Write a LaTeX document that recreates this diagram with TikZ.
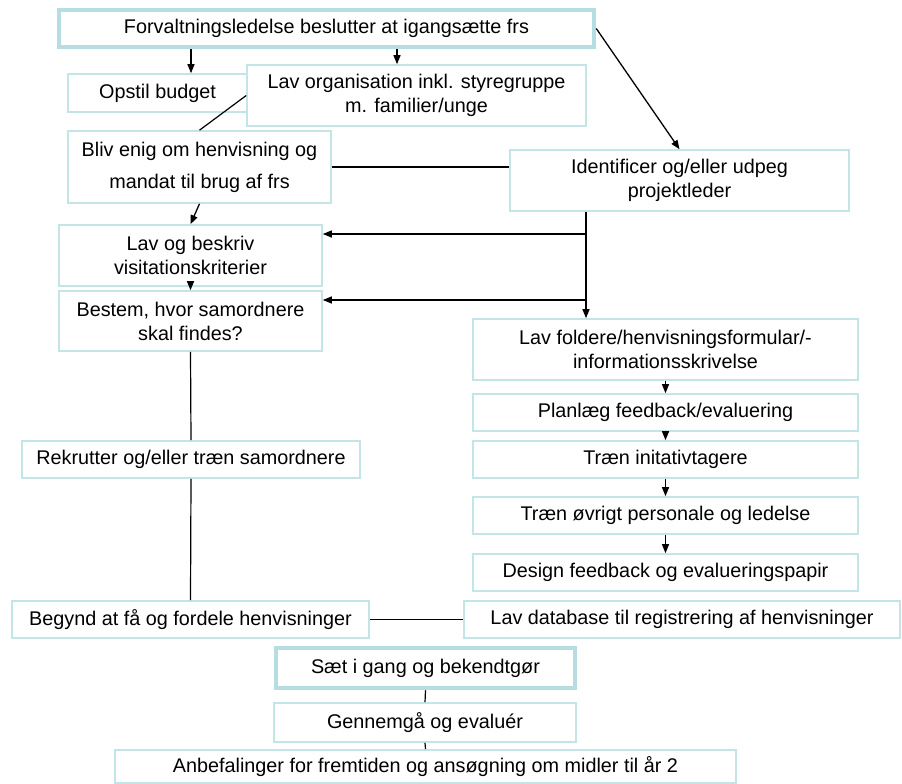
\documentclass[tikz,border=0pt]{standalone}
\usepackage{fontspec}
\setmainfont{Liberation Sans}
\usetikzlibrary{arrows.meta}
\definecolor{kant}{RGB}{196,229,232}
\definecolor{tykkant}{RGB}{182,221,225}
\tikzset{
  boks/.style={draw=kant, line width=1.6pt, fill=white, align=center, inner sep=0pt, font=\fontsize{19.8}{24}\selectfont},
  tykboks/.style={boks, draw=tykkant, line width=4.5pt},
  pil/.style={-{Triangle[length=9pt,width=7pt]}, line width=1.3pt},
  streg/.style={line width=1.2pt}
}
\begin{document}
\begin{tikzpicture}[x=1pt,y=-1pt]
\useasboundingbox (0,0) rectangle (902,784);
\node[tykboks, minimum width=535, minimum height=37] (start) at (326.5,28.5) {Forvaltningsledelse beslutter at igangsætte frs};
\node[boks, minimum width=179, minimum height=38] (opstil) at (157.5,93) {Opstil budget};
\node[boks, minimum width=339, minimum height=61] (lavorg) at (416.5,95.5) {Lav organisation inkl. styregruppe\\m. familier/unge};
\node[boks, minimum width=263, minimum height=72] (bliv) at (199.5,167) {Bliv enig om henvisning og\\[8pt]mandat til brug af frs};
\node[boks, minimum width=339, minimum height=61] (ident) at (679.5,180.5) {Identificer og/eller udpeg\\projektleder};
\node[boks, minimum width=263, minimum height=61] (lavbeskriv) at (190.5,255.5) {Lav og beskriv\\visitationskriterier};
\node[boks, minimum width=263, minimum height=60] (bestem) at (190.5,321) {Bestem, hvor samordnere\\skal findes?};
\node[boks, minimum width=385, minimum height=61] (folder) at (665.5,349.5) {Lav foldere/henvisningsformular/-\\informationsskrivelse};
\node[boks, minimum width=385, minimum height=37] (planlaeg) at (665.5,412.5) {Planlæg feedback/evaluering};
\node[boks, minimum width=385, minimum height=37] (traenini) at (665.5,459.5) {Træn initativtagere};
\node[boks, minimum width=385, minimum height=37] (traenovr) at (665.5,515.5) {Træn øvrigt personale og ledelse};
\node[boks, minimum width=385, minimum height=37] (design) at (665.5,572.5) {Design feedback og evalueringspapir};
\node[boks, minimum width=338, minimum height=37] (rekrut) at (191,459.5) {Rekrutter og/eller træn samordnere};
\node[boks, minimum width=357, minimum height=37] (begynd) at (190.5,619.5) {Begynd at få og fordele henvisninger};
\node[boks, minimum width=436, minimum height=37] (database) at (682,619.5) {Lav database til registrering af henvisninger};
\node[tykboks, minimum width=299, minimum height=40] (saet) at (425.5,668) {Sæt i gang og bekendtgør};
\node[boks, minimum width=302, minimum height=39] (gennem) at (425,722.5) {Gennemgå og evaluér};
\node[boks, minimum width=621, minimum height=33] (anbef) at (425.5,766.5) {Anbefalinger for fremtiden og ansøgning om midler til år 2};
% pile fra toppen
\draw[pil] (start.south -| 191,0) -- (opstil.north -| 191,0);
\draw[pil] (start.south -| 397,0) -- (lavorg.north -| 397,0);
\draw[pil] (start.east) -- (ident.north);
\draw[streg] (lavorg.west) -- (bliv.north);
\draw[streg] (bliv.east) -- (bliv.east -| ident.west);
\draw[pil] (bliv.south) -- (lavbeskriv.north);
\draw[pil] (lavbeskriv.south) -- (bestem.north);
% projektleder-grenen
\coordinate (g1) at (586,234); \coordinate (g2) at (586,300);
\draw[pil] (ident.south -| g1) -- (folder.north -| g1);
\draw[pil] (g1) -- (g1 -| lavbeskriv.east);
\draw[pil] (g2) -- (g2 -| bestem.east);
\foreach \a/\b in {folder/planlaeg,planlaeg/traenini,traenini/traenovr,traenovr/design}{\draw[pil] (\a.south) -- (\b.north);}
\foreach \a/\b in {bestem/rekrut,rekrut/begynd,saet/gennem,gennem/anbef}{\draw[streg] (\a.south) -- (\b.north);}
\draw[streg] (begynd.east) -- (database.west);
\end{tikzpicture}
\end{document}
